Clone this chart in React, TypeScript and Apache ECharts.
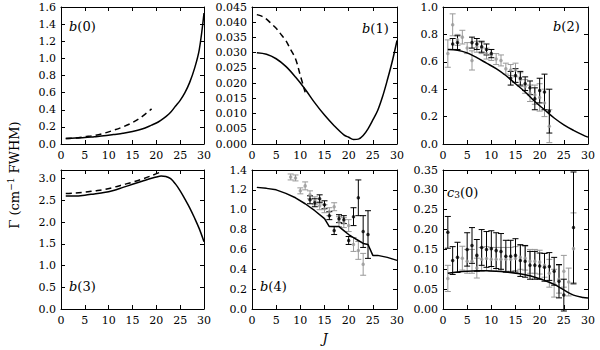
import React, { useEffect, useRef } from "react";
import * as echarts from "echarts";

const FONT = "DejaVu Serif";
const GRAY = "#999999";

// b(0)
const b0SolidJ = [1, 3, 5, 7, 9, 11, 13, 15, 17, 19, 20, 21, 22, 23, 24, 25, 26, 27, 28, 29, 30];
const b0Solid = [0.065, 0.07, 0.075, 0.085, 0.095, 0.11, 0.125, 0.145, 0.175, 0.22, 0.245, 0.28, 0.32, 0.37, 0.44, 0.51, 0.6, 0.72, 0.88, 1.1, 1.53];
const b0DashJ = [1, 3, 5, 7, 9, 11, 13, 15, 17, 19];
const b0Dash = [0.065, 0.07, 0.085, 0.1, 0.125, 0.16, 0.2, 0.25, 0.32, 0.41];

// b(1)
const b1SolidJ = [1, 3, 5, 7, 9, 11, 13, 15, 17, 19, 20, 21, 22, 23, 24, 25, 26, 27, 28, 29, 30];
const b1Solid = [0.03, 0.0295, 0.028, 0.0255, 0.022, 0.018, 0.0135, 0.0095, 0.006, 0.003, 0.0022, 0.0015, 0.0016, 0.0028, 0.005, 0.0079, 0.011, 0.0155, 0.021, 0.027, 0.034];
const b1DashJ = [1, 2, 3, 4, 5, 6, 7, 8, 9, 10, 11];
const b1Dash = [0.0425, 0.042, 0.041, 0.0395, 0.038, 0.036, 0.034, 0.031, 0.028, 0.0225, 0.017];

// b(2)
const b2SolidJ = [1, 3, 5, 7, 9, 11, 13, 15, 17, 19, 21, 23, 25, 27, 29, 30];
const b2Solid = [0.69, 0.685, 0.665, 0.63, 0.59, 0.55, 0.5, 0.44, 0.38, 0.31, 0.25, 0.19, 0.14, 0.1, 0.065, 0.05];
const b2BlackJ = [2, 3, 6, 7, 8, 9, 10, 14, 15, 16, 17, 18, 19, 20, 21, 22];
const b2Black = [0.73, 0.74, 0.74, 0.73, 0.71, 0.69, 0.66, 0.48, 0.5, 0.48, 0.44, 0.41, 0.33, 0.39, 0.38, 0.24];
const b2BlackErr = [0.04, 0.05, 0.04, 0.04, 0.04, 0.04, 0.03, 0.05, 0.05, 0.05, 0.05, 0.05, 0.08, 0.09, 0.13, 0.16];
const b2GrayJ = [1, 2, 3, 4, 5, 6, 7, 8, 9, 10, 11, 12, 13, 14, 15, 16, 17, 18, 19, 20, 21, 22];
const b2Gray = [0.66, 0.87, 0.76, 0.78, 0.7, 0.61, 0.71, 0.7, 0.66, 0.65, 0.62, 0.61, 0.55, 0.54, 0.54, 0.47, 0.42, 0.37, 0.36, 0.34, 0.3, 0.13];
const b2GrayErr = [0.1, 0.08, 0.04, 0.05, 0.04, 0.07, 0.04, 0.04, 0.04, 0.04, 0.04, 0.04, 0.04, 0.04, 0.05, 0.05, 0.05, 0.06, 0.07, 0.1, 0.1, 0.12];

// b(3)
const b3SolidJ = [1, 3, 5, 7, 9, 11, 13, 15, 17, 19, 20, 21, 22, 23, 24, 25, 26, 27, 28, 29, 30];
const b3Solid = [2.6, 2.6, 2.62, 2.65, 2.68, 2.73, 2.8, 2.87, 2.94, 3.01, 3.04, 3.06, 3.05, 3.0, 2.88, 2.72, 2.53, 2.33, 2.1, 1.85, 1.55];
const b3DashJ = [1, 3, 5, 7, 9, 11, 13, 15, 17, 19, 21];
const b3Dash = [2.66, 2.67, 2.69, 2.72, 2.75, 2.8, 2.86, 2.92, 2.99, 3.07, 3.16];

// b(4)
const b4SolidJ = [1, 3, 5, 7, 9, 11, 13, 15, 16, 17, 18, 19, 20, 21, 22, 23, 24, 25, 26, 27, 28, 29, 30];
const b4Solid = [1.225, 1.215, 1.2, 1.165, 1.12, 1.06, 0.99, 0.91, 0.83, 0.83, 0.83, 0.79, 0.75, 0.72, 0.69, 0.66, 0.65, 0.54, 0.54, 0.53, 0.52, 0.505, 0.49];
const b4BlackJ = [12, 13, 14, 15, 16, 17, 18, 19, 20, 21, 22, 23, 24];
const b4Black = [1.1, 1.07, 1.11, 1.05, 0.94, 0.79, 0.91, 0.9, 0.69, 0.93, 1.12, 0.78, 0.75];
const b4BlackErr = [0.04, 0.04, 0.04, 0.04, 0.04, 0.04, 0.04, 0.04, 0.04, 0.09, 0.18, 0.16, 0.24];
const b4GrayJ = [8, 9, 10, 11, 12, 13, 14, 15, 16, 17, 18, 19, 20, 21, 22, 23];
const b4Gray = [1.33, 1.32, 1.19, 1.24, 1.15, 1.09, 1.04, 1.01, 0.98, 1.03, 0.88, 0.87, 0.84, 0.65, 0.59, 0.45];
const b4GrayErr = [0.03, 0.03, 0.03, 0.04, 0.04, 0.04, 0.04, 0.04, 0.04, 0.04, 0.05, 0.05, 0.06, 0.07, 0.09, 0.11];

// c3(0)
const c3SolidJ = [1, 3, 5, 7, 9, 11, 13, 15, 17, 19, 21, 23, 25, 27, 29, 30];
const c3Solid = [0.09, 0.093, 0.095, 0.096, 0.096, 0.095, 0.093, 0.09, 0.086, 0.08, 0.072, 0.062, 0.048, 0.035, 0.029, 0.028];
const c3BlackJ = [1, 2, 3, 5, 6, 7, 8, 9, 10, 11, 12, 13, 14, 15, 16, 17, 18, 19, 20, 21, 22, 23, 24, 25, 27];
const c3Black = [0.193, 0.122, 0.13, 0.15, 0.16, 0.135, 0.155, 0.15, 0.152, 0.147, 0.145, 0.133, 0.133, 0.135, 0.122, 0.12, 0.11, 0.11, 0.108, 0.105, 0.107, 0.095, 0.07, 0.035, 0.205];
const c3BlackErr = [0.04, 0.035, 0.038, 0.042, 0.045, 0.04, 0.045, 0.045, 0.045, 0.045, 0.045, 0.04, 0.04, 0.042, 0.04, 0.04, 0.035, 0.035, 0.033, 0.035, 0.035, 0.035, 0.042, 0.04, 0.14];
const c3GrayJ = [1, 4, 5, 6, 7, 8, 9, 10, 11, 12, 13, 14, 15, 16, 17, 18, 19, 20, 21, 22, 23, 24, 25, 26, 27];
const c3Gray = [0.077, 0.128, 0.12, 0.12, 0.103, 0.125, 0.127, 0.125, 0.125, 0.125, 0.125, 0.125, 0.127, 0.13, 0.128, 0.12, 0.12, 0.118, 0.11, 0.09, 0.065, 0.075, 0.095, 0.068, 0.152];
const c3GrayErr = [0.033, 0.03, 0.03, 0.03, 0.025, 0.03, 0.03, 0.03, 0.03, 0.03, 0.03, 0.03, 0.03, 0.03, 0.03, 0.03, 0.03, 0.03, 0.03, 0.035, 0.035, 0.035, 0.04, 0.035, 0.09];

const xTicks = { min: 0, max: 30, interval: 5 };
const yMax = [1.6, 0.045, 1.0, 3.2, 1.4, 0.35];
const yInterval = [0.2, 0.005, 0.2, 0.5, 0.2, 0.05];
const yDecimals = [1, 3, 1, 1, 1, 2];

const GRIDS = [
  { left: 61, top: 7, width: 143, height: 137 },
  { left: 252, top: 7, width: 145, height: 137 },
  { left: 443, top: 7, width: 145, height: 137 },
  { left: 61, top: 170, width: 143, height: 139 },
  { left: 252, top: 170, width: 145, height: 139 },
  { left: 443, top: 170, width: 145, height: 139 },
];

const zip = (xs: number[], ys: number[]) => xs.map((x, i) => [x, ys[i]]);
const zip3 = (xs: number[], ys: number[], es: number[]) => xs.map((x, i) => [x, ys[i], es[i]]);

function lineSeries(p: number, xs: number[], ys: number[], dashed = false, smooth: boolean | number = 0.35) {
  return {
    type: "line",
    xAxisIndex: p * 2,
    yAxisIndex: p * 2,
    data: zip(xs, ys),
    showSymbol: false,
    smooth,
    z: 5,
    lineStyle: { color: "#000", width: 1.5, type: dashed ? [6, 4] : "solid" },
  };
}

function errSeries(p: number, xs: number[], ys: number[], es: number[], color: string, z: number) {
  return [
    {
      type: "custom",
      xAxisIndex: p * 2,
      yAxisIndex: p * 2,
      data: zip3(xs, ys, es),
      z,
      renderItem: (params: any, api: any) => {
        const x = api.value(0);
        const y = api.value(1);
        const e = api.value(2);
        const t = api.coord([x, y + e]);
        const b = api.coord([x, y - e]);
        const w = 3;
        const st = { stroke: color, lineWidth: 1 };
        return {
          type: "group",
          children: [
            { type: "line", shape: { x1: t[0], y1: t[1], x2: b[0], y2: b[1] }, style: st },
            { type: "line", shape: { x1: t[0] - w, y1: t[1], x2: t[0] + w, y2: t[1] }, style: st },
            { type: "line", shape: { x1: b[0] - w, y1: b[1], x2: b[0] + w, y2: b[1] }, style: st },
          ],
        };
      },
    },
    {
      type: "scatter",
      xAxisIndex: p * 2,
      yAxisIndex: p * 2,
      data: zip(xs, ys),
      symbol: "circle",
      symbolSize: 3.5,
      z: z + 1,
      itemStyle: { color },
    },
  ];
}

function App() {
  const ref = useRef<HTMLDivElement>(null);
  useEffect(() => {
    if (!ref.current) return;
    const chart = echarts.init(ref.current, null, { renderer: "svg" });
    const xAxes: any[] = [];
    const yAxes: any[] = [];
    GRIDS.forEach((_, i) => {
      const tick = { show: true, inside: true, length: 4, lineStyle: { color: "#000", width: 1 } };
      const line = { show: true, onZero: false, lineStyle: { color: "#000", width: 1 } };
      xAxes.push({
        gridIndex: i, type: "value", position: "bottom", ...xTicks,
        axisLine: line, axisTick: tick, splitLine: { show: false },
        axisLabel: { fontFamily: FONT, fontSize: 11, color: "#000", margin: 6 },
      });
      xAxes.push({
        gridIndex: i, type: "value", position: "top", ...xTicks,
        axisLine: line, axisTick: tick, splitLine: { show: false }, axisLabel: { show: false },
      });
      const yb = { min: 0, max: yMax[i], interval: yInterval[i] };
      yAxes.push({
        gridIndex: i, type: "value", position: "left", ...yb,
        axisLine: line, axisTick: tick, splitLine: { show: false },
        axisLabel: {
          fontFamily: FONT, fontSize: 11, color: "#000", margin: 5,
          showMaxLabel: i === 3 ? false : true,
          formatter: (v: number) => v.toFixed(yDecimals[i]),
        },
      });
      yAxes.push({
        gridIndex: i, type: "value", position: "right", ...yb,
        axisLine: line, axisTick: tick, splitLine: { show: false }, axisLabel: { show: false },
      });
    });

    const series: any[] = [
      lineSeries(0, b0SolidJ, b0Solid),
      lineSeries(0, b0DashJ, b0Dash, true),
      lineSeries(1, b1SolidJ, b1Solid),
      lineSeries(1, b1DashJ, b1Dash, true),
      ...errSeries(2, b2GrayJ, b2Gray, b2GrayErr, GRAY, 2),
      ...errSeries(2, b2BlackJ, b2Black, b2BlackErr, "#000", 3),
      lineSeries(2, b2SolidJ, b2Solid),
      lineSeries(3, b3SolidJ, b3Solid),
      lineSeries(3, b3DashJ, b3Dash, true),
      ...errSeries(4, b4GrayJ, b4Gray, b4GrayErr, GRAY, 2),
      ...errSeries(4, b4BlackJ, b4Black, b4BlackErr, "#000", 3),
      lineSeries(4, b4SolidJ, b4Solid, false, false),
      ...errSeries(5, c3GrayJ, c3Gray, c3GrayErr, GRAY, 2),
      ...errSeries(5, c3BlackJ, c3Black, c3BlackErr, "#000", 3),
      lineSeries(5, c3SolidJ, c3Solid),
    ];

    const rich = {
      i: { fontFamily: FONT, fontStyle: "italic", fontSize: 13, color: "#000" },
      n: { fontFamily: FONT, fontSize: 13, color: "#000" },
      s: { fontFamily: FONT, fontSize: 9, color: "#000", padding: [6, 0, 0, 0] },
    };
    const label = (text: string, x: number, y: number) => ({
      type: "text", x, y, z: 10,
      style: { text, rich, verticalAlign: "middle", align: "left" },
    });

    chart.setOption({
      animation: false,
      backgroundColor: "#fff",
      grid: GRIDS.map((g) => ({ ...g, show: false })),
      xAxis: xAxes,
      yAxis: yAxes,
      series,
      graphic: [
        label("{i|b}{n|(0)}", 69, 26),
        label("{i|b}{n|(1)}", 362, 28),
        label("{i|b}{n|(2)}", 553, 26),
        label("{i|b}{n|(3)}", 69, 286),
        label("{i|b}{n|(4)}", 260, 286),
        label("{i|c}{s|3}{n|(0)}", 447, 192),
        {
          type: "text", x: 14, y: 175, rotation: Math.PI / 2, z: 10,
          style: {
            text: "{a|Γ (cm}{u|−1}{a| FWHM)}",
            align: "center", verticalAlign: "middle",
            rich: {
              a: { fontFamily: FONT, fontSize: 13, color: "#000" },
              u: { fontFamily: FONT, fontSize: 9, color: "#000", padding: [0, 0, 6, 0] },
            },
          },
        },
        {
          type: "text", x: 325, y: 338, z: 10,
          style: { text: "J", fontFamily: FONT, fontStyle: "italic", fontSize: 13, fill: "#000", align: "center", verticalAlign: "middle" },
        },
      ],
    });
    return () => chart.dispose();
  }, []);
  return <div ref={ref} style={{ position: "fixed", left: 0, top: 0, width: 600, height: 350 }} />;
}

export default App;
